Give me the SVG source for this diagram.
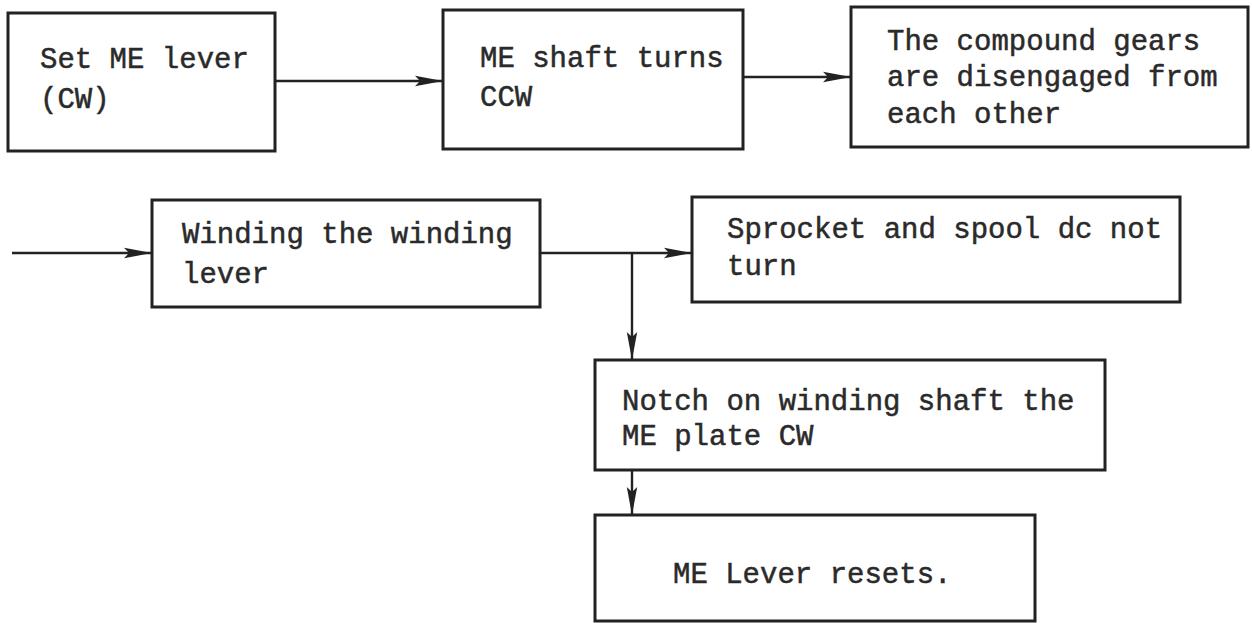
<svg xmlns="http://www.w3.org/2000/svg" width="1252" height="623" viewBox="0 0 1252 623">
<style>
.box{fill:none;stroke:#222;stroke-width:3}
.t{font-family:"Liberation Mono","DejaVu Sans Mono",monospace;font-size:29px;fill:#2a2a2a;stroke:#2a2a2a;stroke-width:0.5}
.c{fill:none;stroke:#222;stroke-width:2.4}
</style>
<defs>
<marker id="ah" markerWidth="28" markerHeight="12" refX="28" refY="6" orient="auto" markerUnits="userSpaceOnUse">
<path d="M0,0.8 L28,6 L0,11.2 L5,6 Z" fill="#222"/>
</marker>
</defs>
<rect width="1252" height="623" fill="#fff"/>
<g id="connectors">
<line class="c" x1="275" y1="81" x2="443" y2="81" marker-end="url(#ah)"/>
<line class="c" x1="743" y1="77" x2="851" y2="77" marker-end="url(#ah)"/>
<line class="c" x1="12" y1="253" x2="152" y2="253" marker-end="url(#ah)"/>
<line class="c" x1="540" y1="253" x2="692" y2="253" marker-end="url(#ah)"/>
<line class="c" x1="632" y1="253" x2="632" y2="360" marker-end="url(#ah)"/>
<line class="c" x1="632" y1="470" x2="632" y2="515" marker-end="url(#ah)"/>
</g>
<g id="n1">
<rect class="box" x="8" y="13" width="267" height="138"/>
<text class="t" x="40" y="68">Set ME lever</text>
<text class="t" x="40" y="108">(CW)</text>
</g>
<g id="n2">
<rect class="box" x="443" y="10" width="300" height="139"/>
<text class="t" x="480" y="67">ME shaft turns</text>
<text class="t" x="480" y="106">CCW</text>
</g>
<g id="n3">
<rect class="box" x="851" y="7" width="397" height="140"/>
<text class="t" x="887" y="50">The compound gears</text>
<text class="t" x="887" y="86">are disengaged from</text>
<text class="t" x="887" y="123">each other</text>
</g>
<g id="n4">
<rect class="box" x="152" y="200" width="388" height="107"/>
<text class="t" x="182" y="243">Winding the winding</text>
<text class="t" x="182" y="283">lever</text>
</g>
<g id="n5">
<rect class="box" x="692" y="197" width="488" height="105"/>
<text class="t" x="727" y="238">Sprocket and spool dc not</text>
<text class="t" x="727" y="275">turn</text>
</g>
<g id="n6">
<rect class="box" x="595" y="360" width="510" height="110"/>
<text class="t" x="622" y="410">Notch on winding shaft the</text>
<text class="t" x="622" y="445">ME plate CW</text>
</g>
<g id="n7">
<rect class="box" x="595" y="515" width="440" height="106"/>
<text class="t" x="673" y="583">ME Lever resets.</text>
</g>
</svg>
